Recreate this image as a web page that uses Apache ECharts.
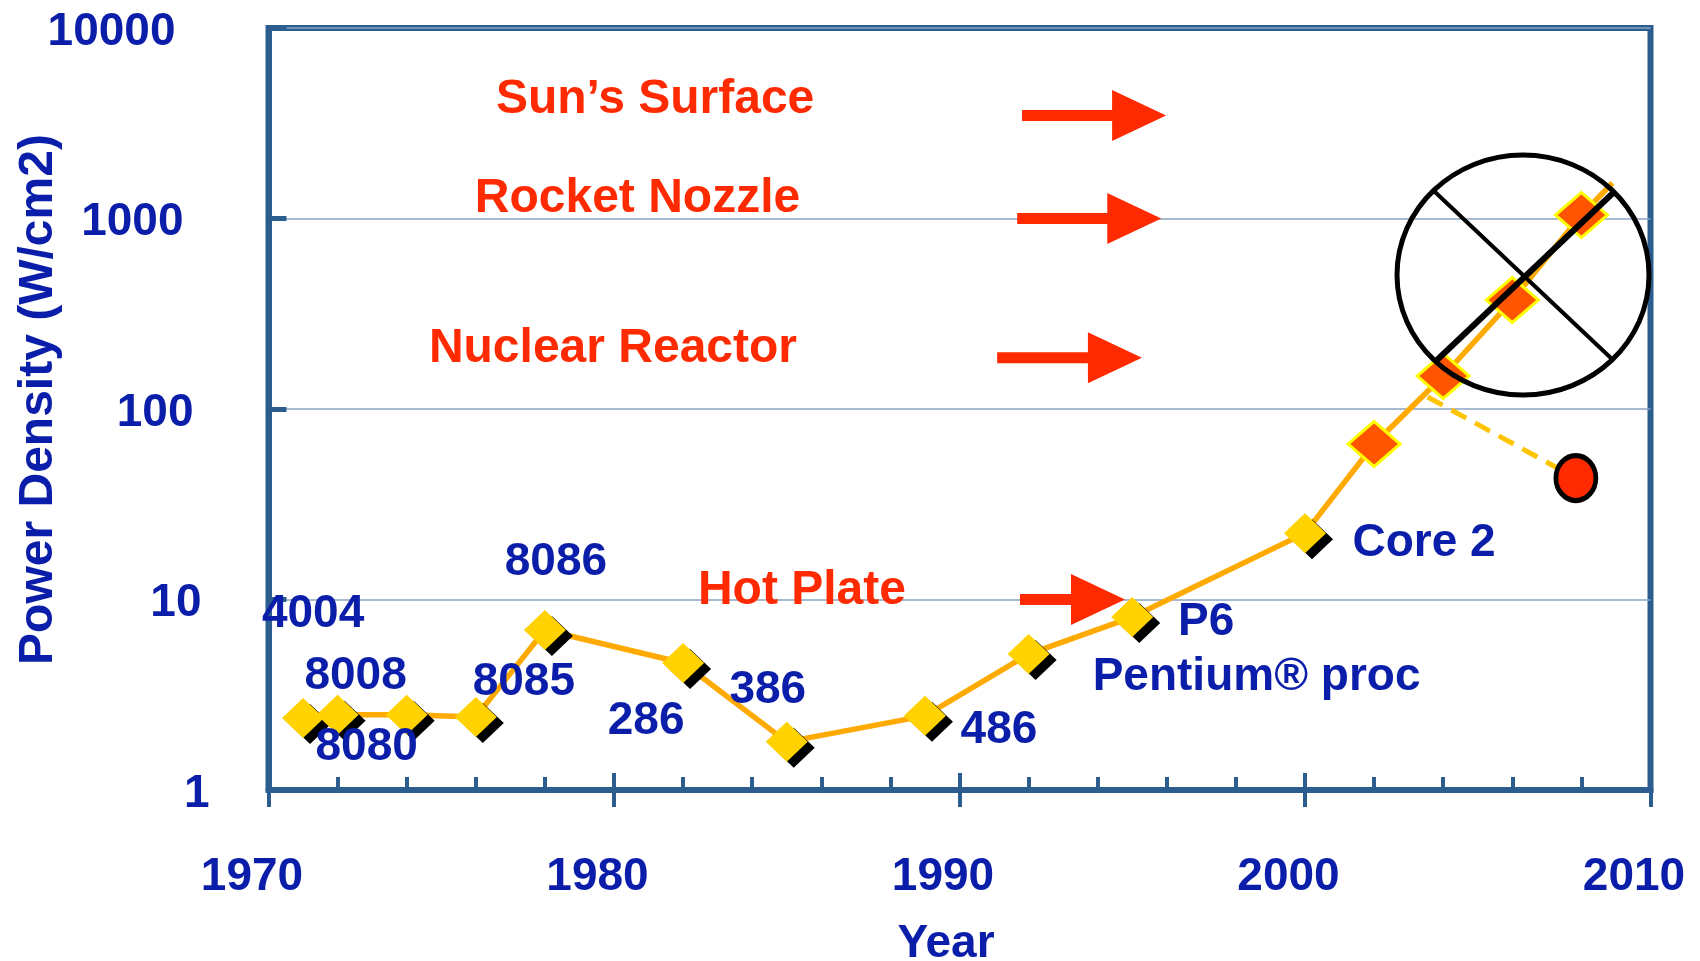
<!DOCTYPE html>
<html><head><meta charset="utf-8">
<script src="https://cdn.jsdelivr.net/npm/echarts@6/dist/echarts.min.js"></script>
<style>html,body{margin:0;padding:0;background:#fff}#c{width:1700px;height:961px}</style>
</head><body><div id="c"></div>
<script>
// ---------------- DATA ----------------
const chipNames   = ['4004','8008','8080','8085','8086','286','386','486','Pentium® proc','P6','Core 2'];
const chipYears   = [1971, 1972, 1974, 1976, 1978, 1982, 1985, 1989, 1992, 1995, 2000];
const chipDensity = [2.39, 2.48, 2.48, 2.42, 6.92, 4.64, 1.79, 2.45, 5.17, 8.09, 22.3];
const futureYears   = [2002, 2004, 2006, 2008];
const futureDensity = [65.5, 149, 373, 1043];
const trendTailYears   = [2008.9];
const trendTailDensity = [1536];
const altPathYears   = [2003.55, 2007.84];
const altPathDensity = [115.6, 43.4];
const heatLabels  = ['Sun’s Surface', 'Rocket Nozzle', 'Nuclear Reactor', 'Hot Plate'];
const heatDensity = [3473, 1000, 186, 10];
const xTickYears  = [1970, 1980, 1990, 2000, 2010];
const yTickValues = [1, 10, 100, 1000, 10000];
const crossedCenter = [[2006.31, 505]];

// ---------------- LAYOUT / STYLE ----------------
const arrowSpan = [[1991.81, 1995.98], [1991.67, 1995.84], [1991.09, 1995.28], [1991.75, 1994.79]];
const heatTextAt = [[1981.19, 4396], [1980.68, 1336], [1979.97, 218], [1985.44, 11.7]];
const TXT_DY = 4;
const chipLabelOffset = {
  '4004':[10,-108], '8008':[18,-43], '8080':[-40,28], '8085':[48,-39], '8086':[11,-72],
  '286':[-37,54], '386':[-19,-56], '486':[74,10], 'Pentium® proc':[228,19], 'P6':[74,1], 'Core 2':[119,6]
};
const yLabelPad = [0, 8, 16, 26, 34];
const FONT = "'Liberation Sans', Arial, sans-serif";
const NAVY = '#0A1EAA', RED = '#FF2A00', AX = '#2B5D8F', GRIDC = '#8BA3C1';

const trendData = chipYears.concat(futureYears, trendTailYears).map((y, i) =>
  [y, chipDensity.concat(futureDensity, trendTailDensity)[i]]);

const rich = {};
yLabelPad.forEach((p, i) => { rich['e' + i] = {fontSize: 46, fontWeight: 'bold', color: NAVY, fontFamily: FONT, padding: [TXT_DY * 2, p, 0, 0]}; });

const option = {
  animation: false,
  backgroundColor: '#fff',
  grid: {left: 268.5, right: 49.5, top: 28, bottom: 171, show: true, borderColor: AX, borderWidth: 6,
         containLabel: false, outerBoundsMode: 'none'},
  xAxis: [{
    type: 'value', min: xTickYears[0], max: xTickYears[xTickYears.length - 1], interval: 10, position: 'bottom',
    axisLine: {show: true, onZero: false, lineStyle: {color: AX, width: 6}},
    axisTick: {show: true, inside: false, length: 17, lineStyle: {color: AX, width: 4}},
    splitLine: {show: false},
    axisLabel: {margin: 64, fontSize: 46, fontWeight: 'bold', color: NAVY, fontFamily: FONT, padding: [0, 33, 0, 0],
      formatter: v => String(Math.round(v))},
    name: 'Year', nameLocation: 'middle', nameGap: 131, nameMoveOverlap: false,
    nameTextStyle: {fontSize: 46, fontWeight: 'bold', color: NAVY, fontFamily: FONT, padding: [0, 27, 0, 0]}
  }, {
    type: 'value', min: xTickYears[0], max: xTickYears[xTickYears.length - 1], interval: 10, position: 'bottom',
    axisLine: {show: false, onZero: false},
    axisTick: {show: true, inside: true, length: 17, lineStyle: {color: AX, width: 4}},
    minorTick: {show: true, splitNumber: 5, length: 13, lineStyle: {color: AX, width: 4}},
    splitLine: {show: false}, axisLabel: {show: false}
  }],
  yAxis: {
    type: 'log', logBase: 10, min: yTickValues[0], max: yTickValues[yTickValues.length - 1],
    axisLine: {show: true, onZero: false, lineStyle: {color: AX, width: 6}},
    axisTick: {show: true, inside: true, length: 18, lineStyle: {color: AX, width: 5}},
    splitLine: {show: true, lineStyle: {color: GRIDC, width: 1.5}},
    axisLabel: {margin: 59, align: 'right', rich: rich,
      formatter: v => { const k = Math.round(Math.log10(v)); return '{e' + k + '|' + yTickValues[k] + '}'; }},
    name: 'Power Density (W/cm2)', nameLocation: 'middle', nameGap: 206, nameMoveOverlap: false,
    nameTextStyle: {fontSize: 48, fontWeight: 'bold', color: NAVY, fontFamily: FONT, padding: [0, 0, 0, 19]}
  },
  series: [
    { type: 'line', name: 'trend', data: trendData, symbol: 'none', z: 2,
      lineStyle: {color: '#FFAA00', width: 5.5} },
    { type: 'line', name: 'alt', data: altPathYears.map((y, i) => [y, altPathDensity[i]]), symbol: 'none', z: 2,
      lineStyle: {color: '#FFC400', width: 5, type: [17, 10]} },
    { type: 'scatter', name: 'chips', z: 3, symbol: 'diamond', symbolSize: [42, 40],
      itemStyle: {color: '#FFD200', shadowColor: '#000', shadowBlur: 0, shadowOffsetX: 7, shadowOffsetY: 6, opacity: 1},
      data: chipNames.map((n, i) => ({name: n, value: [chipYears[i], chipDensity[i]],
        label: {show: true, position: 'inside', offset: [chipLabelOffset[n][0], chipLabelOffset[n][1] + TXT_DY], formatter: '{b}',
                fontSize: 46, fontWeight: 'bold', color: NAVY, fontFamily: FONT, opacity: 1}})) },
    { type: 'scatter', name: 'future', z: 3, symbol: 'diamond', symbolSize: [52, 45],
      itemStyle: {color: '#FF5500', borderColor: '#FFFF00', borderWidth: 3, opacity: 1},
      data: futureYears.map((y, i) => [y, futureDensity[i]]) },
    { type: 'scatter', name: 'actual', z: 4, symbol: 'circle', symbolSize: [40, 45],
      itemStyle: {color: '#FF2A00', borderColor: '#000', borderWidth: 5, opacity: 1},
      data: [[altPathYears[1], altPathDensity[1]]] },
    { type: 'custom', name: 'arrows', z: 5,
      data: heatDensity.map((v, i) => [arrowSpan[i][0], arrowSpan[i][1], v]),
      encode: {x: [0, 1], y: 2},
      renderItem: (params, api) => {
        const a = api.coord([api.value(0), api.value(2)]);
        const b = api.coord([api.value(1), api.value(2)]);
        const hl = 54, hh = 51, st = 11, y = a[1];
        return {type: 'polygon', shape: {points: [
          [a[0], y - st / 2], [b[0] - hl, y - st / 2], [b[0] - hl, y - hh / 2], [b[0], y],
          [b[0] - hl, y + hh / 2], [b[0] - hl, y + st / 2], [a[0], y + st / 2]]},
          style: {fill: RED}};
      } },
    { type: 'scatter', name: 'heatText', z: 5, symbolSize: 1, itemStyle: {color: 'rgba(0,0,0,0)', opacity: 1},
      data: heatLabels.map((t, i) => ({name: t, value: heatTextAt[i]})),
      label: {show: true, position: 'inside', offset: [0, TXT_DY], formatter: '{b}', fontSize: 48, fontWeight: 'bold',
              color: RED, fontFamily: FONT, opacity: 1} },
    { type: 'custom', name: 'crossed', z: 6, data: crossedCenter,
      renderItem: (params, api) => {
        const c = api.coord([api.value(0), api.value(1)]);
        return {type: 'group', children: [
          {type: 'ellipse', shape: {cx: c[0], cy: c[1], rx: 126, ry: 120}, style: {fill: null, stroke: '#000', lineWidth: 5}},
          {type: 'line', shape: {x1: c[0] - 88, y1: c[1] - 83, x2: c[0] + 90, y2: c[1] + 85}, style: {stroke: '#000', lineWidth: 4}},
          {type: 'line', shape: {x1: c[0] - 86, y1: c[1] + 85, x2: c[0] + 90, y2: c[1] - 82}, style: {stroke: '#000', lineWidth: 6}}
        ]};
      } }
  ]
};
const chart = echarts.init(document.getElementById('c'), null, {renderer: 'canvas'});
chart.setOption(option);
</script></body></html>
